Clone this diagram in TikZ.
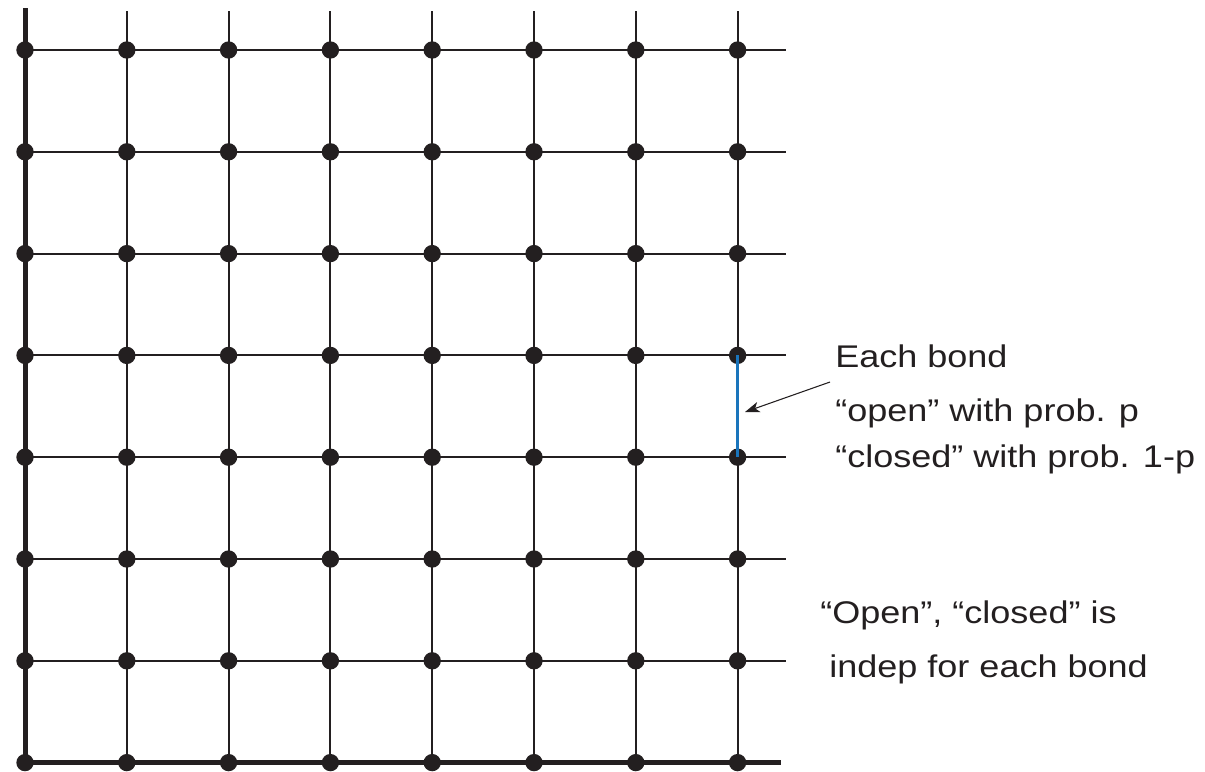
\documentclass[tikz,border=0pt]{standalone}
\usepackage{fontspec}
\setmainfont{Liberation Sans}[FakeStretch=1.15]
\usetikzlibrary{arrows.meta}
\definecolor{ink}{HTML}{231F20}
\definecolor{bondblue}{HTML}{1A75BC}
\begin{document}
\begin{tikzpicture}[x=0.75pt,y=-0.75pt,
  gridline/.style={draw=ink,line width=1.5pt},
  axisline/.style={draw=ink,line width=3.75pt},
  site/.style={circle,fill=ink,inner sep=0pt,minimum size=13pt},
  bond/.style={draw=bondblue,line width=2.6pt},
  pointer/.style={draw=ink,line width=0.8pt,-{Stealth[length=11pt,width=8pt,inset=3pt]}},
  lbl/.style={anchor=base west,font=\fontsize{23.5}{28}\selectfont,text=ink,inner sep=0pt}]
\useasboundingbox (0,0) rectangle (1205,771);
% lattice coordinates
\foreach \i in {0,...,7}{
  \foreach \j in {0,...,7}{
    \coordinate (p\i-\j) at ({25+101.8*\i},{50+101.8*\j});
  }
}
% free ends of the lines
\foreach \i in {1,...,7}{ \coordinate (top\i) at ({25+101.8*\i},11); }
\foreach \j in {0,...,6}{ \coordinate (right\j) at (786,{50+101.8*\j}); }
\coordinate (top0) at (25,8);
\coordinate (right7) at (781,{50+101.8*7});
% grid lines
\foreach \i in {1,...,7}{ \draw[gridline] (top\i) -- (p\i-7); }
\foreach \j in {0,...,6}{ \draw[gridline] (p0-\j) -- (right\j); }
\draw[axisline] (top0) -- (p0-7);
\draw[axisline] (p0-7) -- (right7);
% sites
\foreach \i in {0,...,7}{
  \foreach \j in {0,...,7}{
    \node[site] (s\i-\j) at (p\i-\j) {};
  }
}
% highlighted bond
\draw[bond] (s7-3.center) -- (s7-4.center);
% labels
\node[lbl] (t1) at (835,367) {Each bond};
\node[lbl] (t2) at (835,421) {“open” with prob. p};
\node[lbl] (t3) at (835,467) {“closed” with prob. 1-p};
\node[lbl] (t4) at (820,623) {“Open”, “closed” is};
\node[lbl] (t5) at (829,677) {indep for each bond};
% pointer
\coordinate (arrstart) at (830,382);
\coordinate (arrend) at (745,412);
\draw[pointer] (arrstart) -- (arrend);
\end{tikzpicture}
\end{document}
